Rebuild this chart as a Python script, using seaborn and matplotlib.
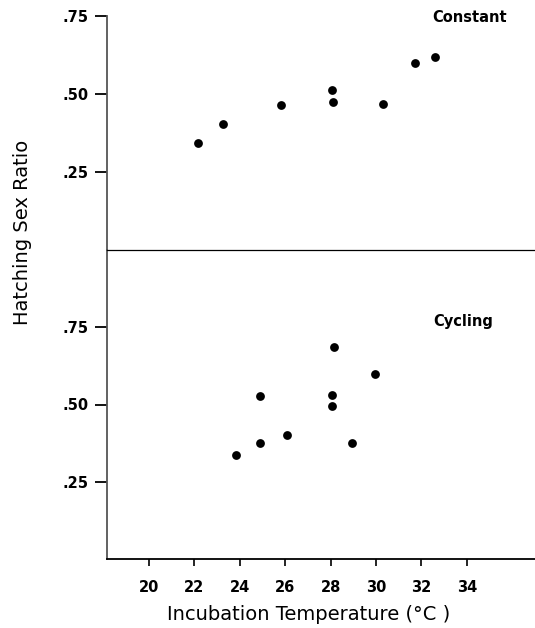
import matplotlib
matplotlib.use("Agg")
import matplotlib.pyplot as plt
import seaborn as sns
import pandas as pd

sns.set_theme(style="white")
plt.rcParams['font.family'] = ['DejaVu Sans']
plt.rcParams['text.color'] = 'black'
plt.rcParams['xtick.color'] = 'black'
plt.rcParams['ytick.color'] = 'black'
plt.rcParams['axes.labelcolor'] = 'black'

# Constant incubation
const_temp = [22.16, 23.26, 25.81, 28.06, 28.10, 30.30, 31.70, 32.60]
const_ratio = [0.343, 0.404, 0.465, 0.513, 0.474, 0.468, 0.599, 0.619]
# Cycling incubation
cyc_temp = [23.83, 24.89, 24.89, 26.08, 28.06, 28.06, 28.15, 28.94, 29.96]
cyc_ratio = [0.335, 0.377, 0.528, 0.400, 0.531, 0.495, 0.685, 0.374, 0.600]

x_ticks = [20, 22, 24, 26, 28, 30, 32, 34]
y_ticks = [0.25, 0.50, 0.75]
y_ticklabels = [".25", ".50", ".75"]

df_const = pd.DataFrame({"temp": const_temp, "ratio": const_ratio})
df_cyc = pd.DataFrame({"temp": cyc_temp, "ratio": cyc_ratio})

W, H = 535, 628
X0, XPX = 18.15, 22.7  # data x at left spine, px per degree

fig = plt.figure(figsize=(W/100, H/100), dpi=100)
gs = fig.add_gridspec(2, 1, height_ratios=[234, 309], hspace=0,
                      left=107/W, right=1.0, top=1-16/H, bottom=1-559/H)
ax1 = fig.add_subplot(gs[0])
ax2 = fig.add_subplot(gs[1], sharex=ax1)
ax1.set_zorder(2)
ax1.patch.set_visible(False)
ax2.patch.set_visible(False)

sns.scatterplot(data=df_const, x="temp", y="ratio", ax=ax1, color="black",
                s=40, edgecolor="black", linewidth=0)
sns.scatterplot(data=df_cyc, x="temp", y="ratio", ax=ax2, color="black",
                s=40, edgecolor="black", linewidth=0)

ax1.set_xlim(X0, X0 + (W - 107) / XPX)
ax1.set_ylim(0, 0.75)
ax2.set_ylim(0, 1.0)

for ax in (ax1, ax2):
    ax.set_xlabel("")
    ax.set_ylabel("")
    ax.spines['top'].set_visible(False)
    ax.spines['right'].set_visible(False)
    ax.spines['left'].set_color("#555555")
    ax.spines['left'].set_linewidth(1.3)
    ax.spines['bottom'].set_color("black")
    ax.set_yticks(y_ticks)
    ax.set_yticklabels(y_ticklabels, fontsize=10.5, fontweight='bold')
    ax.tick_params(axis='y', direction='out', length=9, width=1.3, color='black',
                   left=True, pad=4, labelcolor='black')

ax1.spines['bottom'].set_linewidth(0.9)
ax2.spines['bottom'].set_linewidth(1.3)
ax2.spines['top'].set_visible(False)

ax1.tick_params(axis='x', bottom=False, labelbottom=False)
ax2.set_xticks(x_ticks)
ax2.set_xticklabels([str(t) for t in x_ticks], fontsize=10.5, fontweight='bold')
ax2.tick_params(axis='x', direction='out', length=5, width=1.2, color='black',
                bottom=True, pad=10, labelcolor='black')

ax1.text(X0 + (470 - 107) / XPX, 0.75 - (17 - 16) / 312, "Constant",
         fontsize=10.5, fontweight='bold', ha='center', va='center', color='black')
ax2.text(X0 + (463 - 107) / XPX, 0.75 + (327 - 321) / 306, "Cycling",
         fontsize=10.5, fontweight='bold', ha='center', va='center', color='black')

fig.text(309/W, 1 - 614/H, "Incubation Temperature (°C )", fontsize=14,
         ha='center', va='center', color='black')
fig.text(23/W, 1 - 232/H, "Hatching Sex Ratio", fontsize=14,
         rotation=90, ha='center', va='center', color='black')

fig.savefig("out.png", dpi=100)
